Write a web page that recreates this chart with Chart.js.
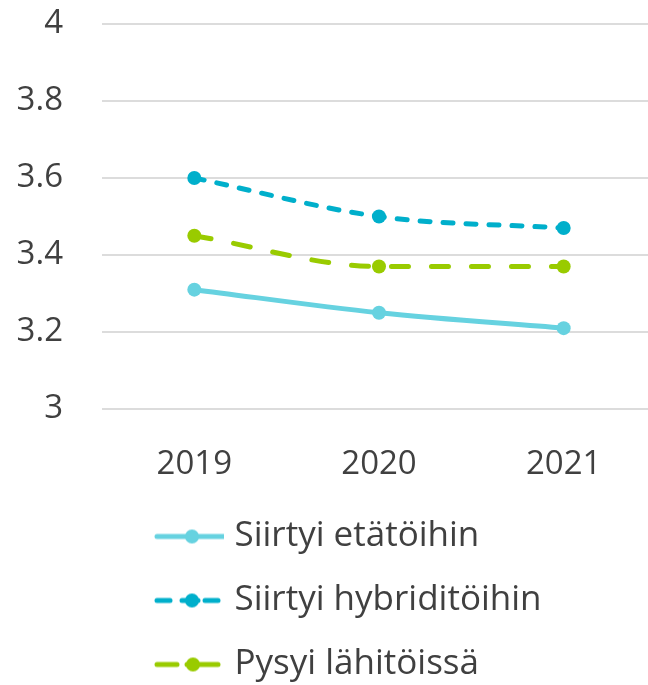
<!DOCTYPE html>
<html>
<head>
<meta charset="utf-8">
<script src="https://cdn.jsdelivr.net/npm/chart.js@4.4.0/dist/chart.umd.min.js"></script>
<style>
  html, body { margin: 0; padding: 0; background: #fff; overflow: hidden; }
</style>
</head>
<body>
<canvas id="myChart" width="663" height="692"></canvas>
<script>
const years = ['2019', '2020', '2021'];
const seriesNames = ['Siirtyi etätöihin', 'Siirtyi hybriditöihin', 'Pysyi lähitöissä'];
const etaValues = [3.31, 3.25, 3.21];
const hybridValues = [3.60, 3.50, 3.47];
const lahiValues = [3.45, 3.37, 3.37];
const yTicks = { min: 3, max: 4, step: 0.2 };

const colors = ['#66D2E0', '#00AFCB', '#99CB00'];
const dashes = [[], [10, 13], [17, 23]];

// legend sample: line + dot, drawn into a small canvas used as point style
const makeSample = (color, segments, dotX) => {
    const c = document.createElement('canvas');
    c.width = 100;
    c.height = 20;
    const g = c.getContext('2d');
    g.strokeStyle = color;
    g.fillStyle = color;
    g.lineWidth = 5;
    g.lineCap = 'round';
    segments.forEach(([a, b]) => {
        g.beginPath();
        g.moveTo(31 + a + 2, 10);
        g.lineTo(31 + b - 2, 10);
        g.stroke();
    });
    g.beginPath();
    g.arc(31 + dotX, 10, 7, 0, Math.PI * 2);
    g.fill();
    return c;
}

const samples = [
    makeSample(colors[0], [[0, 73]], 37),
    makeSample(colors[1], [[0, 17], [25, 45], [48, 65]], 37),
    makeSample(colors[2], [[0, 24], [30, 65]], 38)
];

const allValues = [etaValues, hybridValues, lahiValues];

const ctx = document.getElementById('myChart').getContext('2d');
const font = "'Open Sans', 'Noto Sans', sans-serif";

const myChart = new Chart(ctx, {
    type: 'line',
    data: {
        labels: years,
        datasets: allValues.map((vals, i) => ({
            label: seriesNames[i],
            data: vals,
            borderColor: colors[i],
            backgroundColor: colors[i],
            pointBackgroundColor: colors[i],
            pointBorderWidth: 0,
            pointRadius: 7,
            borderWidth: 5,
            borderDash: dashes[i],
            borderCapStyle: 'round',
            cubicInterpolationMode: 'monotone',
            fill: false
        }))
    },
    options: {
        responsive: false,
        animation: false,
        layout: { padding: { top: 24, left: 0, right: 0, bottom: 0 } },
        scales: {
            x: {
                offset: true,
                grid: { display: false },
                border: { display: false },
                ticks: { color: '#404040', font: { family: font, size: 33 }, padding: 28 },
                afterFit: (scale) => { scale.height = 81 }
            },
            y: {
                min: yTicks.min,
                max: yTicks.max,
                grid: { color: '#dcdcdc', lineWidth: 2, drawTicks: false },
                border: { display: false },
                ticks: {
                    stepSize: yTicks.step,
                    color: '#404040',
                    font: { family: font, size: 33 },
                    padding: 39,
                    callback: (v) => String(+v.toFixed(1))
                },
                afterFit: (scale) => {
                    scale.width = 102
                    scale.paddingTop = 0
                    scale.paddingBottom = 0
                }
            }
        },
        plugins: {
            tooltip: { enabled: false },
            legend: {
                position: 'bottom',
                align: 'start',
                fullSize: false,
                labels: {
                    usePointStyle: true,
                    pointStyleWidth: 86,
                    padding: 29,
                    color: '#404040',
                    font: { family: font, size: 35 },
                    generateLabels: (chart) => Chart.defaults.plugins.legend.labels.generateLabels(chart)
                        .map((item, i) => ({ ...item, pointStyle: samples[i] }))
                }
            }
        }
    }
});
</script>
</body>
</html>
